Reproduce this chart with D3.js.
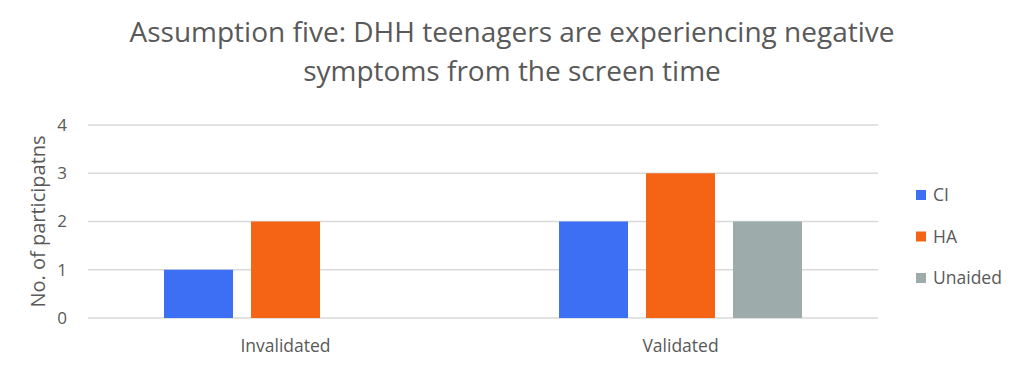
<!DOCTYPE html>
<html>
<head>
<meta charset="utf-8">
<script src="https://cdn.jsdelivr.net/npm/d3@7"></script>
<style>
  body { margin: 0; background: #fff; }
  text { font-family: "Open Sans", sans-serif; fill: #595959; }
</style>
</head>
<body>
<script>
// chart data
var categories = ["Invalidated", "Validated"];
var seriesNames = ["CI", "HA", "Unaided"];
var ciValues = [1, 2];
var haValues = [2, 3];
var unaidedValues = [0, 2];
var yTicks = [0, 1, 2, 3, 4];
var seriesColors = ["#3d6ff4", "#f56414", "#9eabab"];

var width = 1024, height = 367;
var margin = {top: 125, right: 146, bottom: 49, left: 88};

var svg = d3.select("body").append("svg")
    .attr("width", width)
    .attr("height", height);

// title, two lines
svg.append("text")
    .attr("x", 512).attr("y", 42)
    .attr("text-anchor", "middle")
    .style("font-size", "28px")
    .text("Assumption five: DHH teenagers are experiencing negative");
svg.append("text")
    .attr("x", 512).attr("y", 81)
    .attr("text-anchor", "middle")
    .style("font-size", "28px")
    .text("symptoms from the screen time");

var x0 = d3.scaleBand()
    .domain(categories)
    .range([margin.left, width - margin.right])
    .paddingInner(0);

var x1 = d3.scaleBand()
    .domain(seriesNames)
    .range([0, x0.bandwidth()])
    .paddingInner(0.207)
    .paddingOuter(0.874);

var y = d3.scaleLinear()
    .domain([0, 4])
    .range([height - margin.bottom, margin.top]);

// gridlines
svg.append("g").selectAll("line")
    .data(yTicks)
    .enter()
    .append("line")
    .attr("x1", margin.left)
    .attr("x2", width - margin.right)
    .attr("y1", function(d) { return y(d); })
    .attr("y2", function(d) { return y(d); })
    .style("stroke", "#d9d9d9")
    .style("stroke-width", 1.5);

// y tick labels
svg.append("g").selectAll("text")
    .data(yTicks)
    .enter()
    .append("text")
    .attr("x", 67)
    .attr("y", function(d) { return y(d); })
    .attr("dy", "0.35em")
    .attr("text-anchor", "end")
    .style("font-size", "17px")
    .text(function(d) { return d; });

// y axis title
svg.append("text")
    .attr("transform", "translate(45," + y(2) + ") rotate(-90)")
    .attr("text-anchor", "middle")
    .style("font-size", "20px")
    .text("No. of participatns");

// bars
var rows = categories.map(function(c, i) {
    return {category: c, values: [ciValues[i], haValues[i], unaidedValues[i]]};
});

var groups = svg.append("g").selectAll("g")
    .data(rows)
    .enter()
    .append("g")
    .attr("transform", function(d) { return "translate(" + x0(d.category) + ",0)"; });

groups.selectAll("rect")
    .data(function(d) {
        return d.values.map(function(v, j) { return {name: seriesNames[j], value: v, color: seriesColors[j]}; });
    })
    .enter()
    .append("rect")
    .attr("x", function(d) { return x1(d.name); })
    .attr("width", x1.bandwidth())
    .attr("y", function(d) { return y(d.value); })
    .attr("height", function(d) { return y(0) - y(d.value); })
    .style("fill", function(d) { return d.color; });

// x labels
svg.append("g").selectAll("text")
    .data(categories)
    .enter()
    .append("text")
    .attr("x", function(d) { return x0(d) + x0.bandwidth() / 2; })
    .attr("y", 352)
    .attr("text-anchor", "middle")
    .style("font-size", "17.5px")
    .text(function(d) { return d; });

// legend
var legend = svg.append("g").selectAll("g")
    .data(seriesNames)
    .enter()
    .append("g")
    .attr("transform", function(d, i) { return "translate(916," + (195 + i * 41.5) + ")"; });

legend.append("rect")
    .attr("x", 0)
    .attr("y", -5)
    .attr("width", 10)
    .attr("height", 10)
    .style("fill", function(d, i) { return seriesColors[i]; });

legend.append("text")
    .attr("x", 17)
    .attr("dy", "0.35em")
    .style("font-size", "17.5px")
    .text(function(d) { return d; });
</script>
</body>
</html>
